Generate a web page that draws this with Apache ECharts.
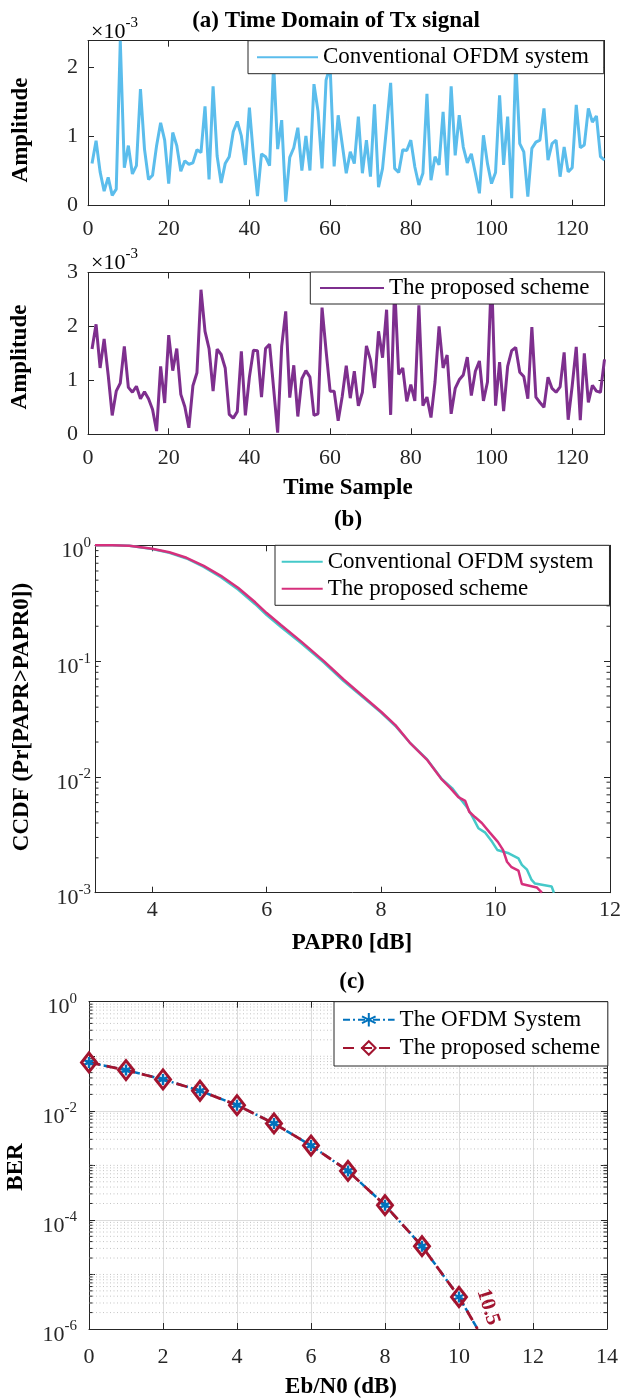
<!DOCTYPE html>
<html>
<head>
<meta charset="utf-8">
<script src="https://cdn.jsdelivr.net/npm/echarts@6/dist/echarts.min.js"></script>
<style>
  html, body { margin: 0; padding: 0; background: #fff; }
  .panel { position: absolute; left: 0; width: 621px; }
</style>
</head>
<body>
<div id="pa" class="panel" style="top:0;height:240px"></div>
<div id="pb" class="panel" style="top:240px;height:290px"></div>
<div id="pc" class="panel" style="top:530px;height:430px"></div>
<div id="pd" class="panel" style="top:960px;height:439px"></div>
<script>
const FONT = '"Liberation Serif", "Times New Roman", serif'
const INK = '#262626'

// time-domain amplitudes, in units of 1e-3
const samples = Array.from({ length: 128 }, (_, i) => i + 1)
const sampleTicks = [0, 20, 40, 60, 80, 100, 120]
const ampConv = [
  0.61, 0.94, 0.49, 0.21, 0.41, 0.15, 0.24, 2.39, 0.55, 0.87, 0.46, 0.58, 1.69, 0.82, 0.38, 0.44,
  0.87, 1.20, 0.95, 0.32, 1.06, 0.87, 0.50, 0.65, 0.60, 0.62, 0.81, 0.77, 1.44, 0.38, 1.73, 0.72,
  0.33, 0.61, 0.71, 1.07, 1.22, 1.01, 0.59, 1.42, 0.72, 0.14, 0.75, 0.71, 0.58, 2.05, 0.82, 1.24,
  0.06, 0.70, 0.84, 1.13, 0.51, 1.01, 0.51, 1.76, 1.37, 0.54, 1.82, 2.02, 0.57, 1.31, 0.89, 0.47,
  0.78, 0.61, 1.29, 0.47, 0.95, 0.42, 1.47, 0.27, 0.54, 1.14, 1.78, 0.54, 0.48, 0.81, 0.80, 0.95,
  0.56, 0.30, 0.47, 1.62, 0.37, 0.71, 0.59, 1.36, 0.44, 1.73, 0.73, 1.31, 0.85, 0.62, 0.75, 0.47,
  0.18, 1.02, 0.61, 0.32, 0.48, 1.60, 0.59, 1.29, 0.11, 2.10, 0.90, 0.78, 0.13, 0.83, 0.92, 0.95,
  1.41, 0.66, 0.90, 0.95, 0.42, 0.85, 0.49, 0.55, 1.46, 0.84, 0.88, 1.41, 1.21, 1.30, 0.71, 0.66
]
const ampProp = [
  1.58, 2.04, 1.23, 1.77, 1.10, 0.35, 0.80, 0.95, 1.63, 0.87, 0.78, 0.89, 0.66, 0.79, 0.66, 0.46,
  0.06, 1.26, 0.58, 1.84, 1.18, 1.59, 0.74, 0.51, 0.12, 0.90, 1.14, 2.68, 1.91, 1.59, 0.80, 1.58,
  1.48, 1.23, 0.37, 0.30, 0.42, 1.54, 0.35, 1.06, 1.56, 1.55, 0.69, 1.59, 1.67, 0.85, 0.03, 1.63,
  2.28, 0.68, 1.28, 0.33, 1.03, 1.18, 1.06, 0.35, 0.38, 2.35, 1.55, 0.80, 0.80, 0.25, 0.70, 1.27,
  0.67, 1.17, 0.53, 0.78, 1.64, 1.38, 0.86, 1.91, 1.42, 2.31, 0.36, 2.75, 1.11, 1.23, 0.61, 0.92,
  0.62, 2.39, 0.53, 0.69, 0.31, 0.97, 2.00, 1.23, 1.47, 0.38, 0.85, 1.01, 1.10, 1.43, 0.72, 1.17,
  1.36, 0.62, 0.97, 3.00, 0.53, 1.34, 0.43, 1.26, 1.55, 1.61, 1.15, 1.07, 0.66, 1.99, 0.69, 0.59,
  0.50, 1.06, 0.85, 0.78, 0.88, 1.52, 0.27, 0.90, 1.62, 0.26, 1.50, 0.59, 0.91, 0.80, 0.78, 1.39
]

// CCDF of PAPR
const paprTicks = [4, 6, 8, 10, 12]
const paprConvX = [3, 3.3, 3.6, 4.0, 4.3, 4.6, 4.9, 5.2, 5.5, 5.8, 6.0, 6.25, 6.6, 7.0, 7.35, 7.7, 8.0,
  8.25, 8.5, 8.8, 9.06, 9.24, 9.38, 9.51, 9.6, 9.7, 9.82, 9.94, 10.03, 10.23, 10.4, 10.46, 10.55,
  10.63, 10.69, 10.98, 11.02]
const ccdfConv = [1.0, 0.999, 0.99, 0.93, 0.86, 0.77, 0.65, 0.53, 0.415, 0.31, 0.25, 0.197, 0.143,
  0.097, 0.067, 0.048, 0.036, 0.0275, 0.0198, 0.0142, 0.0096, 0.0080, 0.0065, 0.0054, 0.0045,
  0.0036, 0.0033, 0.00275, 0.00234, 0.00219, 0.00198, 0.00174, 0.00158, 0.00129, 0.0012,
  0.00113, 0.001]
const paprPropX = [3, 3.3, 3.6, 4.0, 4.3, 4.6, 4.9, 5.2, 5.5, 5.8, 6.0, 6.25, 6.6, 7.0, 7.35, 7.7, 8.0,
  8.25, 8.5, 8.8, 9.06, 9.21, 9.35, 9.47, 9.54, 9.64, 9.76, 9.90, 10.04, 10.13, 10.20, 10.28,
  10.40, 10.46, 10.72, 10.81]
const ccdfProp = [1.0, 0.999, 0.99, 0.935, 0.87, 0.78, 0.665, 0.545, 0.43, 0.322, 0.26, 0.205, 0.148,
  0.10, 0.069, 0.049, 0.0365, 0.028, 0.0198, 0.0141, 0.0095, 0.0080, 0.0067, 0.0062, 0.0050,
  0.0045, 0.0040, 0.0033, 0.00275, 0.00234, 0.00185, 0.00166, 0.00155, 0.00119, 0.00111, 0.001]

// BER vs Eb/N0
const ebnoTicks = [0, 2, 4, 6, 8, 10, 12, 14]
const ebno = [0, 1, 2, 3, 4, 5, 6, 7, 8, 9, 10, 10.5]
const berOfdm = [0.077, 0.0557, 0.0376, 0.0233, 0.0127, 0.00586, 0.00231, 0.00079, 0.000186,
  3.29e-5, 3.86e-6, 1e-6]
const berProp = [0.077, 0.0557, 0.0376, 0.0233, 0.0127, 0.00586, 0.00231, 0.00079, 0.000186,
  3.29e-5, 3.86e-6, 1e-6]

const SUP_RICH = {
  b: { fontFamily: FONT, fontSize: 22, color: INK, lineHeight: 34, verticalAlign: 'bottom' },
  s: { fontFamily: FONT, fontSize: 15, color: INK, lineHeight: 15, verticalAlign: 'top', padding: [7, 0, 0, 0] }
}

const valueAxis = (pos, min, max, ticks, showLabels, margin) => ({
  type: 'value',
  position: pos,
  min,
  max,
  axisLine: { show: true, onZero: false, lineStyle: { color: INK, width: 1 } },
  axisTick: { show: true, inside: true, length: 6, customValues: ticks, lineStyle: { color: INK } },
  axisLabel: {
    show: showLabels,
    customValues: ticks,
    margin: margin || 8,
    color: INK,
    fontFamily: FONT,
    fontSize: 22
  },
  splitLine: { show: false }
})

const logAxis = (pos, min, max, showLabels, keepExp, margin) => ({
  type: 'log',
  logBase: 10,
  position: pos,
  min,
  max,
  axisLine: { show: true, onZero: false, lineStyle: { color: INK, width: 1 } },
  axisTick: { show: true, inside: true, length: 6, lineStyle: { color: INK } },
  axisLabel: {
    show: showLabels,
    margin: margin || 8,
    formatter: (v) => {
      const e = Math.round(Math.log10(v))
      return keepExp(e) ? '{b|10}{s|' + e + '}' : ''
    },
    rich: SUP_RICH
  },
  splitLine: { show: false }
})

// short inner ticks (and optional dotted grid) at log minor positions
const minorTicks = (values, x0, withGrid) => ({
  type: 'custom',
  silent: true,
  z: 1,
  data: values.map((v) => [x0, v]),
  renderItem: (params, api) => {
    const cs = params.coordSys
    const y = api.coord([api.value(0), api.value(1)])[1]
    const kids = [
      { type: 'line', shape: { x1: cs.x, y1: y, x2: cs.x + 3.5, y2: y }, style: { stroke: INK, lineWidth: 1 } },
      { type: 'line', shape: { x1: cs.x + cs.width - 3.5, y1: y, x2: cs.x + cs.width, y2: y }, style: { stroke: INK, lineWidth: 1 } }
    ]
    if (withGrid) {
      kids.unshift({
        type: 'line',
        shape: { x1: cs.x, y1: y, x2: cs.x + cs.width, y2: y },
        style: { stroke: '#c4c4c4', lineWidth: 1, lineDash: [1, 2.5] }
      })
    }
    return { type: 'group', children: kids }
  }
})

const text = (x, y, str, style, extra) => Object.assign({
  type: 'text',
  x,
  y,
  silent: true,
  style: Object.assign({
    text: str,
    fontFamily: FONT,
    fontSize: 23,
    fontWeight: 'bold',
    fill: '#000',
    align: 'center',
    verticalAlign: 'middle',
    textAlign: 'center',
    textVerticalAlign: 'middle'
  }, style || {})
}, extra || {})

const expLabel = (x, y) => text(x, y, '{b|×10}{s|-3}', {
  align: 'left',
  textAlign: 'left',
  fontWeight: 'normal',
  rich: SUP_RICH
})

const legendBase = (left, top, padding, itemWidth, hideSymbol) => ({
  left,
  top,
  padding,
  itemWidth,
  itemHeight: 14,
  backgroundColor: '#fff',
  borderColor: INK,
  borderWidth: 1,
  borderRadius: 0,
  selectedMode: false,
  itemStyle: hideSymbol ? { opacity: 0 } : {},
  textStyle: { fontFamily: FONT, fontSize: 23, color: '#000' }
})

const pairs = (xs, ys) => xs.map((x, i) => [x, ys[i]])

// (a)
const chartA = echarts.init(document.getElementById('pa'))
chartA.setOption({
  animation: false,
  backgroundColor: '#fff',
  grid: { left: 88, top: 40.7, width: 516.5, height: 165, outerBoundsMode: 'none' },
  xAxis: [valueAxis('bottom', 0, 128, sampleTicks, true, 13), valueAxis('top', 0, 128, sampleTicks, false)],
  yAxis: [valueAxis('left', 0, 2.39, [0, 1, 2], true, 10), valueAxis('right', 0, 2.39, [0, 1, 2], false)],
  legend: Object.assign(legendBase(248, 40.7, [5, 15, 5, 8], 61, true), { data: ['Conventional OFDM system'] }),
  series: [{
    type: 'line',
    name: 'Conventional OFDM system',
    data: pairs(samples, ampConv),
    symbol: 'none',
    lineStyle: { color: '#5bbdec', width: 3 },
    itemStyle: { color: '#5bbdec' }
  }],
  graphic: [
    text(336, 21, '(a) Time Domain of Tx signal'),
    expLabel(91, 26),
    text(21, 130, 'Amplitude', {}, { rotation: Math.PI / 2 })
  ]
})

// (b)
const chartB = echarts.init(document.getElementById('pb'))
chartB.setOption({
  animation: false,
  backgroundColor: '#fff',
  grid: { left: 88, top: 32.5, width: 516.5, height: 161.8, outerBoundsMode: 'none' },
  xAxis: [valueAxis('bottom', 0, 128, sampleTicks, true, 13), valueAxis('top', 0, 128, sampleTicks, false)],
  yAxis: [valueAxis('left', 0, 3, [0, 1, 2, 3], true, 10), valueAxis('right', 0, 3, [0, 1, 2, 3], false)],
  legend: Object.assign(legendBase(310.3, 32, [4.5, 15, 4.5, 8.7], 64, true), { data: ['The proposed scheme'] }),
  series: [{
    type: 'line',
    name: 'The proposed scheme',
    data: pairs(samples, ampProp),
    symbol: 'none',
    lineStyle: { color: '#7e2f8e', width: 3 },
    itemStyle: { color: '#7e2f8e' }
  }],
  graphic: [
    expLabel(91, 17),
    text(20, 117, 'Amplitude', {}, { rotation: Math.PI / 2 }),
    text(348, 248, 'Time Sample'),
    text(348, 280, '(b)')
  ]
})

// (c)
const minorC = []
for (let e = -3; e < 0; e++) for (let m = 2; m <= 9; m++) minorC.push(m * Math.pow(10, e))

const chartC = echarts.init(document.getElementById('pc'))
chartC.setOption({
  animation: false,
  backgroundColor: '#fff',
  grid: { left: 95, top: 15.3, width: 515, height: 347.4, outerBoundsMode: 'none' },
  xAxis: [valueAxis('bottom', 3, 12, paprTicks, true, 7), valueAxis('top', 3, 12, paprTicks, false)],
  yAxis: [logAxis('left', 0.001, 1, true, () => true, 4), logAxis('right', 0.001, 1, false, () => true)],
  legend: Object.assign(legendBase(275, 15.3, [5, 16, 5, 5.7], 41, true), {
    orient: 'vertical',
    itemGap: 4,
    data: ['Conventional OFDM system', 'The proposed scheme']
  }),
  series: [
    minorTicks(minorC, 3, false),
    {
      type: 'line',
      name: 'Conventional OFDM system',
      data: pairs(paprConvX, ccdfConv),
      symbol: 'none',
      lineStyle: { color: '#45c9c9', width: 2.5 },
      itemStyle: { color: '#45c9c9' }
    },
    {
      type: 'line',
      name: 'The proposed scheme',
      data: pairs(paprPropX, ccdfProp),
      symbol: 'none',
      lineStyle: { color: '#d6307c', width: 2.5 },
      itemStyle: { color: '#d6307c' }
    }
  ],
  graphic: [
    text(22, 187, 'CCDF (Pr[PAPR>PAPR0])', {}, { rotation: Math.PI / 2 }),
    text(352, 413, 'PAPR0 [dB]')
  ]
})

// (d)
const minorD = []
for (let e = -6; e < 0; e++) {
  for (let m = 1; m <= 9; m++) {
    if (m === 1 && e % 2 === 0) continue
    minorD.push(m * Math.pow(10, e))
  }
}
const ASTERISK = 'path://M5,0L5,10M0.67,2.5L9.33,7.5M0.67,7.5L9.33,2.5'
const lastNoSymbol = (xs, ys) => xs.map((x, i) => (i === xs.length - 1 ? { value: [x, ys[i]], symbol: 'none' } : [x, ys[i]]))

const chartD = echarts.init(document.getElementById('pd'))
const yD = logAxis('left', 1e-6, 1, true, (e) => e % 2 === 0, 12)
yD.splitLine = { show: true, lineStyle: { color: ['#dcdcdc', 'rgba(0,0,0,0)'], width: 1 } }
const xD = valueAxis('bottom', 0, 14, ebnoTicks, true, 17)
xD.interval = 2
xD.splitLine = { show: true, lineStyle: { color: '#dcdcdc', width: 1 } }
const xDTop = valueAxis('top', 0, 14, ebnoTicks, false)
xDTop.interval = 2
chartD.setOption({
  animation: false,
  backgroundColor: '#fff',
  grid: { left: 89, top: 41.7, width: 518, height: 327.3, outerBoundsMode: 'none' },
  xAxis: [xD, xDTop],
  yAxis: [yD, logAxis('right', 1e-6, 1, false, () => false)],
  legend: Object.assign(legendBase(334, 41.7, [6.5, 7.7, 6.5, 8], 51.6, false), {
    orient: 'vertical',
    itemGap: 5.3,
    itemHeight: 17,
    data: ['The OFDM System', 'The proposed scheme']
  }),
  series: [
    minorTicks(minorD, 0, true),
    {
      type: 'line',
      name: 'The OFDM System',
      data: lastNoSymbol(ebno, berOfdm),
      symbol: ASTERISK,
      symbolSize: 11,
      itemStyle: { color: '#0072bd', borderColor: '#0072bd', borderWidth: 2.5 },
      lineStyle: { color: '#0072bd', width: 2.5, type: [7, 3, 2, 3] }
    },
    {
      type: 'line',
      name: 'The proposed scheme',
      data: lastNoSymbol(ebno, berProp),
      symbol: 'diamond',
      symbolSize: [15, 19],
      itemStyle: { color: 'rgba(0,0,0,0)', borderColor: '#a2142f', borderWidth: 3 },
      lineStyle: { color: '#a2142f', width: 2.8, type: [11, 7] }
    }
  ],
  graphic: [
    text(352, 22, '(c)'),
    text(16, 207, 'BER', {}, { rotation: Math.PI / 2 }),
    text(341, 427, 'Eb/N0 (dB)'),
    text(488, 347, '10.5', { fill: '#a2142f', fontSize: 21 }, { rotation: -72 * Math.PI / 180 })
  ]
})
</script>
</body>
</html>
